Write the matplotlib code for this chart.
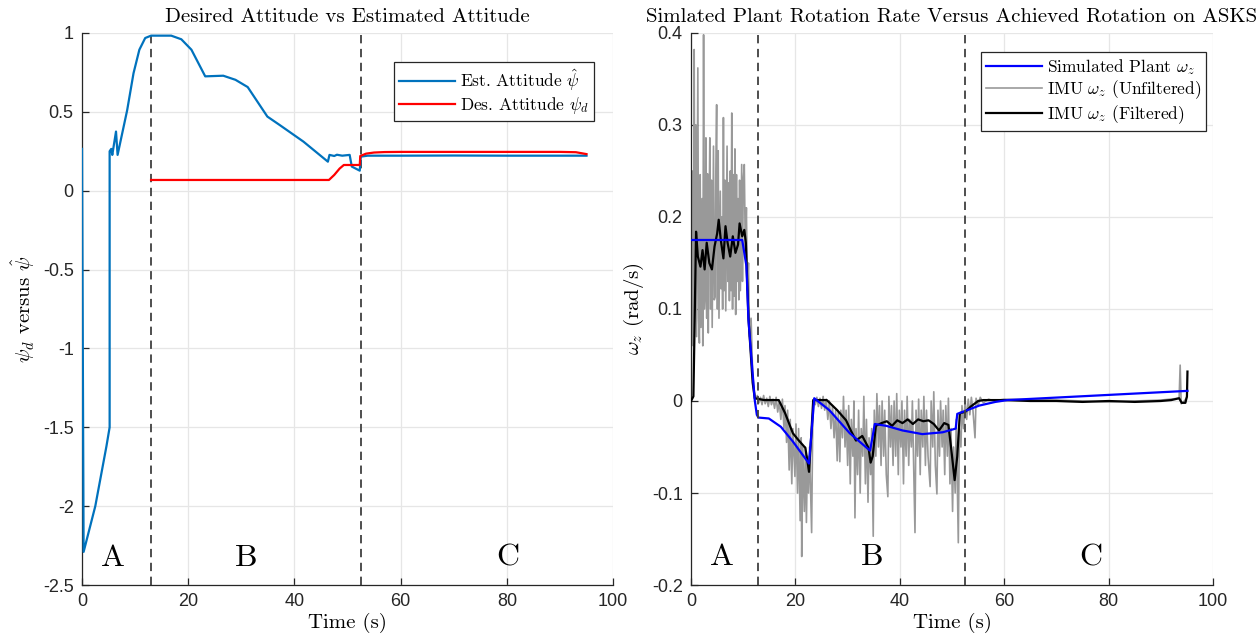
import matplotlib
matplotlib.use("Agg")
import matplotlib.pyplot as plt
from matplotlib.ticker import FormatStrFormatter

# ---- left panel: desired vs estimated attitude ----
est_t = [0.0, 0.3, 2.5, 4.6, 5.2, 5.2, 5.5, 5.7, 6.4, 6.7, 8.5, 9.7, 10.8, 11.9, 13.0,
         16.8, 18.7, 20.6, 23.2, 26.6, 28.9, 31.2, 34.9, 37.2, 41.7, 46.3, 46.6, 47.5,
         48.0, 49.0, 50.4, 50.8, 52.3, 52.5, 53.8, 60.0, 70.0, 80.0, 90.0, 95.0]
est_y = [0.265, -2.29, -2.0, -1.62, -1.5, 0.25, 0.265, 0.227, 0.375, 0.227, 0.51, 0.745,
         0.894, 0.968, 0.983, 0.983, 0.96, 0.894, 0.725, 0.729, 0.703, 0.657, 0.47, 0.417,
         0.311, 0.184, 0.227, 0.22, 0.228, 0.222, 0.227, 0.153, 0.127, 0.216, 0.222, 0.222,
         0.223, 0.222, 0.222, 0.222]

des_t = [13.0, 46.5, 47.5, 48.5, 49.3, 52.3, 52.4, 53.5, 55.0, 57.0, 60.0, 70.0, 80.0,
         90.0, 93.0, 95.0]
des_y = [0.068, 0.068, 0.10, 0.14, 0.163, 0.163, 0.22, 0.235, 0.242, 0.245, 0.246, 0.246,
         0.246, 0.246, 0.244, 0.232]

# ---- right panel: rotation rates ----
sim_t = [0, 9.8, 10.6, 11.0, 12.2, 12.6, 12.9, 14.9, 17.2, 19.5, 22.6, 23.6, 26.5, 30.4,
         34.3, 35.2, 37.4, 40.5, 44.3, 48.2, 50.7, 51.0, 52.9, 55.2, 58.3, 60.6, 95.1]
sim_y = [0.175, 0.175, 0.147, 0.088, 0.001, -0.015, -0.018, -0.019, -0.028, -0.044, -0.068,
         0.003, -0.010, -0.035, -0.054, -0.025, -0.027, -0.032, -0.036, -0.034, -0.030,
         -0.014, -0.010, -0.005, -0.001, 0.001, 0.011]

filt_t = [0.0, 0.45, 0.7, 0.96, 1.3, 1.8, 2.2, 2.6, 3.0, 3.5, 4.0, 4.5, 5.0, 5.3, 5.7, 6.2,
          6.6, 7.0, 7.5, 8.0, 8.5, 9.0, 9.3, 9.8, 10.2, 10.5, 11.0, 11.8, 12.2, 14.0, 16.8,
          18.0, 19.5, 20.5, 21.9, 22.2, 22.6, 23.0, 23.4, 26.0, 28.0, 29.7, 30.6, 31.6,
          32.8, 34.0, 34.4, 34.8, 35.4, 36.5, 37.5, 38.5, 39.5, 40.5, 41.5, 42.5, 43.5,
          44.5, 45.5, 46.5, 47.5, 48.5, 49.3, 49.8, 50.5, 51.0, 51.5, 52.5, 53.6, 55.0,
          56.0, 60.0, 65.0, 70.0, 75.0, 80.0, 85.0, 90.0, 92.0, 93.5, 94.0, 94.7, 95.0, 95.1]
filt_y = [0.0, 0.005, 0.09, 0.184, 0.157, 0.146, 0.164, 0.143, 0.172, 0.150, 0.143, 0.168,
          0.182, 0.197, 0.175, 0.155, 0.190, 0.172, 0.157, 0.179, 0.161, 0.170, 0.193, 0.179,
          0.186, 0.172, 0.09, 0.02, 0.003, 0.001, 0.001, -0.013, -0.035, -0.042, -0.051,
          -0.062, -0.077, -0.04, 0.001, 0.001, -0.010, -0.021, -0.032, -0.043, -0.038,
          -0.051, -0.067, -0.06, -0.027, -0.024, -0.022, -0.027, -0.021, -0.024, -0.020,
          -0.025, -0.020, -0.022, -0.021, -0.025, -0.032, -0.024, -0.026, -0.05, -0.086,
          -0.06, -0.013, -0.012, -0.006, 0.0, 0.001, 0.001, 0.0, 0.0, -0.001, 0.0, -0.001,
          0.0, 0.001, 0.003, -0.002, -0.002, 0.005, 0.032]

raw_t = [0.0, 0.3, 0.45, 0.6, 0.75, 0.9, 1.05, 1.3, 1.45, 1.6, 1.75, 1.9, 2.1, 2.25, 2.4,
         2.55, 2.7, 2.85, 3.0, 3.15, 3.3, 3.45, 3.6, 3.75, 3.9, 4.05, 4.3, 4.45, 4.6, 4.75,
         4.9, 5.05, 5.2, 5.35, 5.6, 5.75, 5.9, 6.05, 6.2, 6.35, 6.5, 6.65, 6.9, 7.05, 7.2,
         7.35, 7.5, 7.65, 7.8, 7.95, 8.1, 8.25, 8.4, 8.55, 8.7, 8.85, 9.0, 9.15, 9.3, 9.45,
         9.7, 9.85, 10.0, 10.2, 10.4, 10.6, 10.8, 11.0, 11.2, 11.5, 11.8, 12.1, 12.4, 12.7,
         13.0, 13.3, 13.6, 13.9, 14.2, 14.5, 14.8, 15.1, 15.4, 15.7, 16.0, 16.3, 16.6, 16.9,
         17.2, 17.5, 17.8, 18.0, 18.3, 18.5, 18.8, 19.0, 19.3, 19.5, 19.9, 20.1, 20.4, 20.6,
         20.9, 21.1, 21.2, 21.4, 21.7, 21.9, 22.1, 22.3, 22.5, 22.7, 23.1, 23.3, 23.5, 23.8,
         24.1, 24.4, 24.7, 25.0, 25.3, 25.6, 25.9, 26.2, 26.5, 26.8, 27.1, 27.4, 27.7, 28.0,
         28.2, 28.5, 28.7, 29.0, 29.2, 29.5, 29.7, 30.0, 30.2, 30.5, 30.7, 31.0, 31.2, 31.4,
         31.6, 31.9, 32.1, 32.4, 32.6, 32.9, 33.1, 33.4, 33.6, 33.9, 34.1, 34.4, 34.6, 34.9,
         35.1, 35.4, 35.6, 35.9, 36.1, 36.4, 36.6, 36.9, 37.1, 37.4, 37.7, 37.9, 38.2, 38.4,
         38.7, 38.9, 39.2, 39.4, 39.7, 39.9, 40.2, 40.4, 40.7, 40.9, 41.2, 41.4, 41.7, 41.9,
         42.2, 42.4, 42.9, 43.1, 43.4, 43.6, 43.9, 44.1, 44.4, 44.6, 44.9, 45.1, 45.4, 45.8,
         46.0, 46.3, 46.5, 46.8, 47.1, 47.3, 47.6, 47.8, 48.1, 48.3, 48.6, 48.8, 49.1, 49.3,
         49.6, 49.8, 50.1, 50.3, 50.6, 50.8, 51.2, 51.4, 51.7, 51.9, 52.2, 52.5, 52.8, 53.1,
         53.4, 53.7, 54.0, 54.4, 54.6, 55.0, 55.4, 56.0, 57.0, 58.0, 60.0, 70.0, 80.0, 90.0,
         93.5, 93.7, 93.9, 94.5, 95.0]
raw_y = [0.005, 0.25, 0.06, 0.382, 0.10, 0.30, 0.07, 0.362, 0.09, 0.063, 0.246, 0.08, 0.22,
         0.06, 0.398, 0.10, 0.117, 0.286, 0.09, 0.247, 0.074, 0.20, 0.286, 0.10, 0.24, 0.08,
         0.277, 0.11, 0.113, 0.25, 0.322, 0.10, 0.272, 0.09, 0.228, 0.122, 0.20, 0.10, 0.308,
         0.12, 0.24, 0.098, 0.277, 0.13, 0.237, 0.109, 0.25, 0.12, 0.313, 0.10, 0.246, 0.114,
         0.274, 0.094, 0.246, 0.13, 0.22, 0.11, 0.24, 0.12, 0.257, 0.13, 0.24, 0.257, 0.16,
         0.21, 0.12, 0.15, 0.07, 0.09, 0.03, 0.012, 0.002, 0.006,
         -0.002, 0.004, -0.004, 0.006, -0.003, 0.003, -0.006, 0.005, -0.004, 0.002, -0.008,
         0.004, -0.012, 0.0, -0.02, 0.002, -0.03, -0.005, -0.045, -0.01, -0.075, -0.02, -0.09,
         -0.03, -0.082, -0.025, -0.10, -0.03, -0.13, -0.04, -0.169, -0.05, -0.12, -0.05,
         -0.132, -0.06, -0.10, -0.05, -0.143, -0.03, 0.002, -0.004, 0.004, -0.006, 0.003,
         -0.008, 0.005, -0.01, 0.002, -0.02, 0.0, -0.03, -0.005, -0.04, -0.01, -0.065, -0.012,
         -0.066, -0.01, -0.04, 0.005, -0.05, -0.01, -0.07, -0.005, -0.09, -0.02, -0.06, 0.0,
         -0.127, -0.03, -0.08, -0.01, -0.10, -0.03, -0.06, 0.005, -0.09, -0.02, -0.11, -0.04,
         -0.08, -0.03, -0.147, -0.01, -0.06, 0.008, -0.05, -0.005, -0.07, 0.0, -0.06, -0.01,
         -0.08, -0.104, 0.005, -0.05, -0.005, -0.07, 0.0, -0.06, 0.008, -0.08, -0.01, -0.05,
         0.0, -0.09, -0.01, -0.06, 0.005, -0.07, -0.02, -0.05, 0.0, -0.143, -0.01, -0.06,
         0.002, -0.08, -0.01, -0.05, 0.005, -0.07, -0.01, -0.06, -0.093, 0.0, -0.05, 0.01,
         -0.07, -0.101, -0.01, -0.06, 0.0, -0.05, -0.01, -0.08, -0.005, -0.06, 0.003, -0.09,
         -0.03, -0.12, -0.05, -0.10, -0.02, -0.154, -0.03, -0.05, -0.005, -0.03, 0.0, -0.02,
         0.002, -0.015, 0.004, -0.01, -0.04, 0.003, -0.005, 0.004, -0.002, 0.002, 0.0, 0.002,
         0.001, -0.001, 0.001, 0.003, 0.039, -0.003, 0.0, 0.004]

phase_lines = [12.9, 52.45]
phase_names = ["A", "B", "C"]
left_phase_x = [5.9, 31.0, 80.2]
right_phase_x = [6.0, 34.7, 76.5]

plt.rcParams["mathtext.fontset"] = "cm"
plt.rcParams["axes.unicode_minus"] = False
plt.rcParams["axes.formatter.use_mathtext"] = False
plt.rcParams["lines.scale_dashes"] = False

serif = "cmr10"
tick_font = "Liberation Sans"
axcol = "#262626"

fig = plt.figure(figsize=(12.56, 6.44), dpi=100)
ax1 = fig.add_axes([0.0653, 0.0916, 0.4228, 0.8572])
ax2 = fig.add_axes([0.5502, 0.0916, 0.4156, 0.8572])


def style(ax):
    for s in ["top", "right"]:
        ax.spines[s].set_visible(False)
    for s in ["left", "bottom"]:
        ax.spines[s].set_color(axcol)
        ax.spines[s].set_linewidth(0.9)
    ax.grid(True, color="#e6e6e6", linewidth=0.9)
    ax.set_axisbelow(True)
    ax.tick_params(direction="in", length=5, width=0.9, colors=axcol, labelsize=13, pad=6)
    for lab in ax.get_xticklabels() + ax.get_yticklabels():
        lab.set_fontfamily(tick_font)
    ax.yaxis.set_major_formatter(FormatStrFormatter("%g"))
    ax.xaxis.set_major_formatter(FormatStrFormatter("%g"))


# left panel
ax1.plot(est_t, est_y, color="#0072BD", lw=1.6, label=r"Est. Attitude $\hat{\psi}$", zorder=3)
ax1.plot(des_t, des_y, color="#FF0000", lw=1.6, label=r"Des. Attitude $\psi_d$", zorder=3)
ax1.set_xlim(0, 100)
ax1.set_ylim(-2.5, 1)
ax1.set_xticks([0, 20, 40, 60, 80, 100])
ax1.set_yticks([-2.5, -2, -1.5, -1, -0.5, 0, 0.5, 1])
for x in phase_lines:
    ax1.axvline(x, color="#404040", lw=1.3, dashes=(6, 4), zorder=2)
for x, n in zip(left_phase_x, phase_names):
    ax1.text(x, -2.33, n, fontfamily=serif, fontsize=23, ha="center", va="center")
ax1.set_title("Desired Attitude vs Estimated Attitude", fontfamily=serif, fontsize=15, pad=8)
ax1.set_xlabel("Time (s)", fontfamily=serif, fontsize=15, labelpad=2)
ax1.set_ylabel(r"$\psi_d$ versus $\hat{\psi}$", fontfamily=serif, fontsize=15, labelpad=4)
style(ax1)
leg1 = ax1.legend(loc="upper right", bbox_to_anchor=(0.964, 0.947), borderaxespad=0,
                  prop={"family": serif, "size": 12.5}, handlelength=3.2, handletextpad=0.3,
                  fancybox=False, framealpha=1, edgecolor="#262626", borderpad=0.3,
                  labelspacing=0.1)
leg1.get_frame().set_linewidth(0.9)

# right panel
l_raw, = ax2.plot(raw_t, raw_y, color="#999999", lw=1.2, label=r"IMU $\omega_z$ (Unfiltered)", zorder=2)
l_filt, = ax2.plot(filt_t, filt_y, color="black", lw=1.6, label=r"IMU $\omega_z$ (Filtered)", zorder=3)
l_sim, = ax2.plot(sim_t, sim_y, color="#0000FF", lw=1.6, label=r"Simulated Plant $\omega_z$", zorder=4)
ax2.set_xlim(0, 100)
ax2.set_ylim(-0.2, 0.4)
ax2.set_xticks([0, 20, 40, 60, 80, 100])
ax2.set_yticks([-0.2, -0.1, 0, 0.1, 0.2, 0.3, 0.4])
for x in phase_lines:
    ax2.axvline(x, color="#404040", lw=1.3, dashes=(6, 4), zorder=5)
for x, n in zip(right_phase_x, phase_names):
    ax2.text(x, -0.17, n, fontfamily=serif, fontsize=23, ha="center", va="center")
ax2.set_title("Simlated Plant Rotation Rate Versus Achieved Rotation on ASKS",
              fontfamily=serif, fontsize=15, pad=8)
ax2.set_xlabel("Time (s)", fontfamily=serif, fontsize=15, labelpad=2)
ax2.set_ylabel(r"$\omega_z$ (rad/s)", fontfamily=serif, fontsize=15, labelpad=4)
style(ax2)
leg2 = ax2.legend(handles=[l_sim, l_raw, l_filt], loc="upper right",
                  bbox_to_anchor=(0.987, 0.966), borderaxespad=0,
                  prop={"family": serif, "size": 12.5}, handlelength=3.2, handletextpad=0.3,
                  fancybox=False, framealpha=1, edgecolor="#262626", borderpad=0.3,
                  labelspacing=0.1)
leg2.get_frame().set_linewidth(0.9)

fig.savefig("out.png", dpi=100, facecolor="white")
